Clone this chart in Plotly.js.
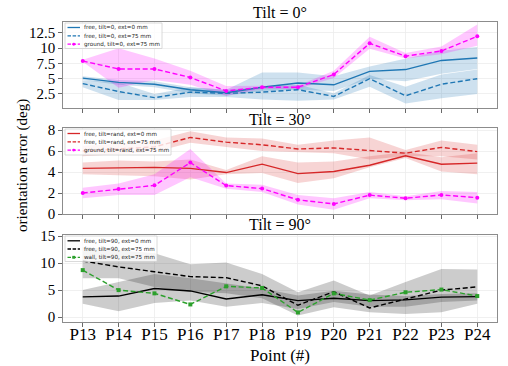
<!DOCTYPE html>
<html>
<head>
<meta charset="utf-8">
<script src="https://cdn.plot.ly/plotly-3.0.1.min.js"></script>
<style>html,body{margin:0;padding:0;background:#fff;}#chart{width:508px;height:366px;}</style>
</head>
<body>
<div id="chart"></div>
<script>
// ---------- data ----------
const categories = ['P13','P14','P15','P16','P17','P18','P19','P20','P21','P22','P23','P24'];

// Tilt = 0
const t0FreeExt0      = [5.1, 4.4, 4.1, 3.2, 2.7, 3.6, 4.3, 4.0, 6.2, 6.5, 8.0, 8.4];
const t0FreeExt0Lo    = [4.8, 4.0, 3.6, 2.6, 2.2, 3.0, 3.2, 3.0, 5.0, 4.6, 5.8, 6.6];
const t0FreeExt0Hi    = [5.4, 4.8, 4.6, 3.6, 3.2, 6.0, 6.0, 5.4, 7.0, 8.3, 9.6, 10.2];
const t0FreeExt75     = [4.2, 2.9, 1.9, 2.8, 2.6, 2.8, 3.2, 2.1, 5.0, 2.2, 4.1, 5.0];
const t0FreeExt75Lo   = [3.6, 1.5, 1.5, 2.0, 2.0, 1.6, 1.4, 1.6, 3.7, 0.95, 1.8, 2.5];
const t0FreeExt75Hi   = [4.7, 4.4, 2.5, 3.6, 3.2, 3.6, 4.0, 2.6, 5.6, 3.7, 5.7, 6.5];
const t0Ground        = [7.9, 6.6, 6.6, 5.2, 3.0, 3.6, 3.6, 5.7, 10.8, 8.7, 9.55, 11.95];
const t0GroundLo      = [7.8, 3.5, 4.8, 4.0, 2.2, 3.3, 3.3, 5.1, 9.9, 8.3, 9.0, 10.4];
const t0GroundHi      = [8.1, 10.0, 8.3, 6.3, 3.8, 3.9, 3.9, 6.3, 11.9, 9.2, 10.3, 13.9];

// Tilt = 30 (rand)
const t30FreeExt0     = [4.35, 4.42, 4.45, 4.35, 3.95, 4.75, 3.85, 4.05, 4.65, 5.55, 4.75, 4.85];
const t30FreeExt0Lo   = [3.8, 3.7, 3.6, 3.3, 3.8, 3.9, 2.95, 3.4, 4.45, 5.35, 4.05, 3.8];
const t30FreeExt0Hi   = [4.9, 5.1, 5.0, 5.2, 4.2, 5.5, 4.9, 5.0, 5.5, 5.9, 5.4, 5.8];
const t30FreeExt75    = [6.0, 6.2, 6.4, 7.3, 6.85, 6.6, 6.2, 6.3, 6.05, 5.8, 6.35, 5.95];
const t30FreeExt75Lo  = [5.5, 5.7, 5.9, 6.8, 6.4, 6.0, 5.9, 5.8, 5.2, 5.5, 5.5, 5.2];
const t30FreeExt75Hi  = [6.5, 6.7, 7.0, 7.9, 7.3, 7.2, 6.6, 7.0, 7.3, 6.1, 7.0, 6.6];
const t30Ground       = [2.0, 2.38, 2.73, 4.9, 2.71, 2.42, 1.35, 0.96, 1.8, 1.5, 1.82, 1.56];
const t30GroundLo     = [1.5, 1.8, 1.8, 3.5, 2.4, 2.1, 0.9, 0.4, 1.5, 1.3, 1.4, 1.0];
const t30GroundHi     = [2.5, 2.9, 3.8, 6.2, 2.9, 2.8, 1.8, 1.5, 2.1, 1.7, 2.2, 2.1];

// Tilt = 90
const t90FreeExt0     = [3.75, 3.9, 5.3, 4.85, 3.35, 4.15, 3.05, 3.5, 3.05, 3.2, 3.7, 3.8];
const t90FreeExt0Lo   = [2.5, 1.1, 2.6, 3.1, 1.9, 2.6, 1.5, 2.8, 1.9, 1.9, 2.8, 3.1];
const t90FreeExt0Hi   = [5.0, 6.5, 8.0, 7.2, 6.2, 5.3, 4.0, 4.9, 4.2, 3.9, 4.3, 4.4];
const t90FreeExt75    = [10.4, 9.3, 8.4, 7.5, 7.3, 5.8, 2.2, 4.7, 1.7, 3.3, 5.0, 5.6];
const t90FreeExt75Lo  = [7.2, 7.2, 5.6, 4.7, 4.4, 3.5, 0.3, 1.85, 0.9, 0.6, 0.9, 2.5];
const t90FreeExt75Hi  = [13.0, 12.4, 11.8, 9.8, 10.1, 8.0, 4.6, 6.8, 4.0, 6.5, 8.9, 8.8];
const t90Wall         = [8.7, 5.0, 4.4, 2.35, 5.7, 5.4, 0.87, 4.4, 3.15, 4.6, 5.1, 3.9];

const panelTitles = ['Tilt = 0°', 'Tilt = 30°', 'Tilt = 90°'];
const legend1 = ['free, tilt=0, ext=0 mm', 'free, tilt=0, ext=75 mm', 'ground, tilt=0, ext=75 mm'];
const legend2 = ['free, tilt=rand, ext=0 mm', 'free, tilt=rand, ext=75 mm', 'ground, tilt=rand, ext=75 mm'];
const legend3 = ['free, tilt=90, ext=0 mm', 'free, tilt=90, ext=75 mm', 'wall, tilt=90, ext=75 mm'];
const yTicks1 = [2.5, 5, 7.5, 10, 12.5];
const yTicks2 = [0, 2, 4, 6, 8];
const yTicks3 = [0, 5, 10, 15];
const xTitle = 'Point (#)';
const yTitle = 'orientation error (deg)';

// ---------- build ----------
const xIdx = categories.map((c, i) => i);
const DASH = '5px,2.6px';
const BLUE = '#1f77b4', MAG = '#ff00ff', RED = '#d62728', BLK = '#000000', GRN = '#2ca02c';

function band(lo, hi, color, xa, ya) {
  return {
    x: xIdx.concat(xIdx.slice().reverse()),
    y: hi.concat(lo.slice().reverse()),
    xaxis: xa, yaxis: ya, type: 'scatter', mode: 'lines',
    fill: 'toself', fillcolor: color, line: {width: 0, color: 'rgba(0,0,0,0)'},
    hoverinfo: 'skip', showlegend: false
  };
}
function line(y, color, dash, xa, ya, marker) {
  const t = {
    x: xIdx, y: y, xaxis: xa, yaxis: ya, type: 'scatter',
    mode: marker ? 'lines+markers' : 'lines',
    line: {color: color, width: 1.4, dash: dash || 'solid'},
    showlegend: false
  };
  if (marker) t.marker = {symbol: marker, size: 4, color: color};
  return t;
}

const traces = [
  band(t0FreeExt0Lo, t0FreeExt0Hi, 'rgba(31,119,180,0.22)', 'x', 'y'),
  band(t0FreeExt75Lo, t0FreeExt75Hi, 'rgba(31,119,180,0.22)', 'x', 'y'),
  band(t0GroundLo, t0GroundHi, 'rgba(255,0,255,0.22)', 'x', 'y'),
  line(t0FreeExt0, BLUE, 'solid', 'x', 'y'),
  line(t0FreeExt75, BLUE, DASH, 'x', 'y'),
  line(t0Ground, MAG, DASH, 'x', 'y', 'circle'),

  band(t30FreeExt0Lo, t30FreeExt0Hi, 'rgba(214,39,40,0.2)', 'x2', 'y2'),
  band(t30FreeExt75Lo, t30FreeExt75Hi, 'rgba(214,39,40,0.2)', 'x2', 'y2'),
  band(t30GroundLo, t30GroundHi, 'rgba(255,0,255,0.22)', 'x2', 'y2'),
  line(t30FreeExt0, RED, 'solid', 'x2', 'y2'),
  line(t30FreeExt75, RED, DASH, 'x2', 'y2'),
  line(t30Ground, MAG, DASH, 'x2', 'y2', 'circle'),

  band(t90FreeExt0Lo, t90FreeExt0Hi, 'rgba(0,0,0,0.2)', 'x3', 'y3'),
  band(t90FreeExt75Lo, t90FreeExt75Hi, 'rgba(0,0,0,0.2)', 'x3', 'y3'),
  line(t90FreeExt0, BLK, 'solid', 'x3', 'y3'),
  line(t90FreeExt75, BLK, DASH, 'x3', 'y3'),
  line(t90Wall, GRN, DASH, 'x3', 'y3', 'square')
];

// layout geometry (pixels)
const L = 63, R = 497, T = 22, B = 322;
const W = R - L, H = B - T;
const px2x = p => (p - L) / W;
const py2y = p => (B - p) / H;

const serif = '"Liberation Serif", "Times New Roman", Times, serif';
function xAxis(anchor, showLabels) {
  return {
    anchor: anchor, domain: [0, 1], range: [-0.55, 11.55],
    tickmode: 'array', tickvals: xIdx, ticktext: categories,
    showticklabels: showLabels, ticks: 'outside', ticklen: 3.5, tickcolor: '#444', tickwidth: 0.8,
    ticklabelstandoff: -7,
    showgrid: true, gridcolor: '#ececec', gridwidth: 0.8, zeroline: false,
    showline: true, mirror: true, linecolor: '#8c8c8c', linewidth: 1.2,
    tickfont: {family: serif, size: 17, color: '#000'}
  };
}
function yAxis(anchor, domain, range, ticks) {
  return {
    anchor: anchor, domain: domain, range: range,
    tickmode: 'array', tickvals: ticks, ticktext: ticks.map(String),
    ticks: 'outside', ticklen: 3.5, tickcolor: '#444', tickwidth: 0.8,
    showgrid: true, gridcolor: '#ececec', gridwidth: 0.8, zeroline: false,
    showline: true, mirror: true, linecolor: '#8c8c8c', linewidth: 1.2,
    tickfont: {family: serif, size: 15, color: '#000'}
  };
}

const annotations = [
  {text: panelTitles[0], x: 0.5, y: py2y(13), xref: 'paper', yref: 'paper', showarrow: false, xanchor: 'center', yanchor: 'middle', font: {family: serif, size: 16, color: '#000'}},
  {text: panelTitles[1], x: 0.5, y: py2y(119), xref: 'paper', yref: 'paper', showarrow: false, xanchor: 'center', yanchor: 'middle', font: {family: serif, size: 16, color: '#000'}},
  {text: panelTitles[2], x: 0.5, y: py2y(224), xref: 'paper', yref: 'paper', showarrow: false, xanchor: 'center', yanchor: 'middle', font: {family: serif, size: 16, color: '#000'}},
  {text: xTitle, x: 0.5, y: py2y(355), xref: 'paper', yref: 'paper', showarrow: false, xanchor: 'center', yanchor: 'middle', font: {family: serif, size: 17, color: '#000'}},
  {text: yTitle, x: px2x(22), y: py2y(166), xref: 'paper', yref: 'paper', showarrow: false, textangle: -90, xanchor: 'center', yanchor: 'middle', font: {family: serif, size: 15, color: '#000'}}
];
const shapes = [];

// manual legends
const legendDefs = [
  {box: [65, 162, 23, 48.5], rows: [27.5, 35.8, 44.2], labels: legend1,
   styles: [[BLUE, 'solid', null], [BLUE, DASH, null], [MAG, DASH, 'circle']]},
  {box: [65, 171, 129, 155], rows: [133.5, 141.8, 150.1], labels: legend2,
   styles: [[RED, 'solid', null], [RED, DASH, null], [MAG, DASH, 'circle']]},
  {box: [65, 157, 236, 261.5], rows: [240.8, 249, 257.3], labels: legend3,
   styles: [[BLK, 'solid', null], [BLK, DASH, null], [GRN, DASH, 'square']]}
];
legendDefs.forEach(def => {
  shapes.push({type: 'rect', xref: 'paper', yref: 'paper', layer: 'above',
    x0: px2x(def.box[0]), x1: px2x(def.box[1]), y0: py2y(def.box[2]), y1: py2y(def.box[3]),
    fillcolor: 'rgba(255,255,255,0.8)', line: {color: '#d0d0d0', width: 0.8}});
  def.rows.forEach((ry, i) => {
    const st = def.styles[i];
    shapes.push({type: 'line', xref: 'paper', yref: 'paper', layer: 'above',
      x0: px2x(67.5), x1: px2x(80), y0: py2y(ry), y1: py2y(ry),
      line: {color: st[0], width: 1.3, dash: st[1] === 'solid' ? 'solid' : '3.5px,1.6px'}});
    if (st[2]) {
      shapes.push({type: st[2] === 'circle' ? 'circle' : 'rect', xref: 'paper', yref: 'paper', layer: 'above',
        x0: px2x(72.3), x1: px2x(75.2), y0: py2y(ry - 1.45), y1: py2y(ry + 1.45),
        fillcolor: st[0], line: {color: st[0], width: 0}});
    }
    annotations.push({text: def.labels[i], x: px2x(82.5), y: py2y(ry), xref: 'paper', yref: 'paper',
      showarrow: false, xanchor: 'left', yanchor: 'middle', borderpad: 0,
      font: {family: '"DejaVu Sans", sans-serif', size: 5.6, color: '#222'}});
  });
});

const layout = {
  width: 508, height: 366,
  margin: {l: L, r: 508 - R, t: T, b: 366 - B, pad: 0},
  paper_bgcolor: '#fff', plot_bgcolor: '#fff',
  showlegend: false,
  xaxis: xAxis('y', false),
  xaxis2: xAxis('y2', false),
  xaxis3: xAxis('y3', true),
  yaxis: yAxis('x', [py2y(108), py2y(22)], [0.2, 14.3], yTicks1),
  yaxis2: yAxis('x2', [py2y(214), py2y(128)], [0, 8.2], yTicks2),
  yaxis3: yAxis('x3', [py2y(322), py2y(235)], [-0.9, 15.2], yTicks3),
  annotations: annotations,
  shapes: shapes
};

Plotly.newPlot('chart', traces, layout, {staticPlot: true, displayModeBar: false});
</script>
</body>
</html>
